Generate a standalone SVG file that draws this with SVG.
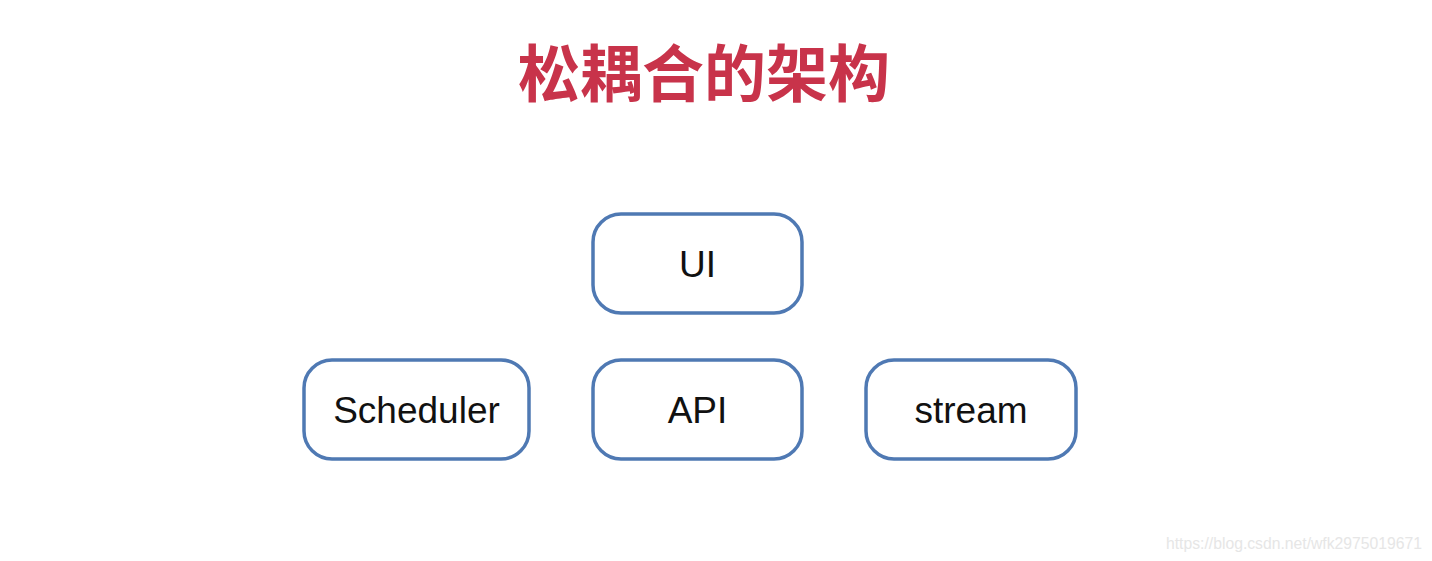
<svg xmlns="http://www.w3.org/2000/svg" width="1432" height="561" viewBox="0 0 1432 561">
<style>
.box{fill:#fff;stroke:#4f79b3;stroke-width:3.5}
.lbl{font-family:"Liberation Sans",Arial,sans-serif;font-size:37px;fill:#111;text-anchor:middle}
.title{font-family:"Noto Sans CJK SC","Noto Sans CJK JP",sans-serif;font-size:62px;font-weight:bold;fill:#c8334a;text-anchor:middle}
.wm{font-family:"Liberation Sans",Arial,sans-serif;font-size:16px;fill:#e6e6e6}
</style>
<rect width="1432" height="561" fill="#fff"/>
<text class="title" x="704" y="97">松耦合的架构</text>
<g id="connectors"></g>
<g id="ui"><rect class="box" x="593" y="214" width="209" height="99" rx="28"/><text class="lbl" x="697.5" y="277">UI</text></g>
<g id="scheduler"><rect class="box" x="304" y="360" width="225" height="99" rx="28"/><text class="lbl" x="416.5" y="423">Scheduler</text></g>
<g id="api"><rect class="box" x="593" y="360" width="209" height="99" rx="28"/><text class="lbl" x="697.5" y="423">API</text></g>
<g id="stream"><rect class="box" x="866" y="360" width="210" height="99" rx="28"/><text class="lbl" x="971" y="423">stream</text></g>
<text class="wm" x="1166" y="549" textLength="256" lengthAdjust="spacingAndGlyphs">https://blog.csdn.net/wfk2975019671</text>
</svg>
